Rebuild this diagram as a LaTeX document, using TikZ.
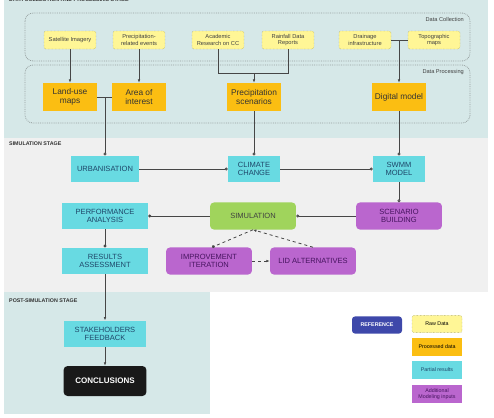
\documentclass[tikz,border=0pt]{standalone}
\usepackage{fontspec}
\setmainfont{Liberation Sans}
\usetikzlibrary{arrows.meta}

\definecolor{bgteal}{RGB}{214,232,232}
\definecolor{bggray}{RGB}{240,240,240}
\definecolor{rawfill}{RGB}{255,246,150}
\definecolor{rawline}{RGB}{140,140,70}
\definecolor{procfill}{RGB}{251,190,18}
\definecolor{partfill}{RGB}{104,218,226}
\definecolor{parttext}{RGB}{30,70,105}
\definecolor{simfill}{RGB}{160,212,92}
\definecolor{addfill}{RGB}{186,102,206}
\definecolor{addtext}{RGB}{70,20,95}
\definecolor{reffill}{RGB}{62,72,170}
\definecolor{lineclr}{RGB}{70,70,70}
\definecolor{groupline}{RGB}{150,160,160}

\begin{document}
\begin{tikzpicture}[x=0.035cm, y=-0.035cm, font=\fontsize{7.5}{8.5}\selectfont,
    every node/.style={align=center, inner sep=1pt},
    raw/.style={draw=rawline, densely dotted, rounded corners=2pt, fill=rawfill, text=black!75,
        minimum width=1.82cm, minimum height=0.63cm, font=\fontsize{5.7}{6.7}\selectfont},
    proc/.style={fill=procfill, text=black!80, minimum width=1.86cm, minimum height=0.98cm,
        font=\fontsize{8.3}{9.3}\selectfont},
    part/.style={fill=partfill, text=parttext, minimum height=0.93cm},
    addin/.style={fill=addfill, text=addtext, rounded corners=4pt, minimum width=3.01cm, minimum height=0.95cm},
    group/.style={draw=groupline, densely dotted, rounded corners=8pt, thick},
    stage/.style={anchor=west, font=\fontsize{5.3}{6}\selectfont\bfseries, text=black!80},
    legend/.style={minimum width=1.75cm, minimum height=0.6cm, font=\fontsize{5.3}{6}\selectfont},
    link/.style={draw=lineclr, thick},
    ocirc/.style={link, -{Circle[open, length=3pt]}},
    fcirc/.style={link, -{Circle[length=3pt]}},
    tip/.style={link, -{Latex[length=3.5pt]}},
    dlink/.style={link, dashed}]

    \useasboundingbox (0,0) rectangle (494,418);

    % stages
    \fill[bgteal] (4,0) rectangle (488,138);
    \fill[bggray] (4,138) rectangle (488,292);
    \fill[bgteal] (4,292) rectangle (210,414);
    \node[stage, anchor=base west] (title) at (8,1.6) {DATA COLLECTION AND PROCESSING STAGE};
    \node[stage] (simstage) at (8,144) {SIMULATION STAGE};
    \node[stage] (poststage) at (8,301) {POST-SIMULATION STAGE};

    % data groups
    \draw[group] (25,13) rectangle (470,61);
    \draw[group] (25,65) rectangle (470,123);
    \node[anchor=east, font=\fontsize{5.6}{6}\selectfont, text=black!75] (collection) at (465,19) {Data Collection};
    \node[anchor=east, font=\fontsize{5.6}{6}\selectfont, text=black!75] (processing) at (465,72) {Data Processing};

    % raw data
    \node[raw] (satellite) at (70,40) {Satellite Imagery};
    \node[raw] (events) at (139,40) {Precipitation-\\related events};
    \node[raw] (academic) at (218,40) {Academic\\Research on CC};
    \node[raw] (rainfall) at (288,40) {Rainfall Data\\Reports};
    \node[raw] (drainage) at (365,40) {Drainage\\infrastructure};
    \node[raw] (topo) at (434,40) {Topographic\\maps};

    % processed data
    \node[proc] (landuse) at (70,97) {Land-use\\maps};
    \node[proc] (area) at (139,97) {Area of\\interest};
    \node[proc] (scenarios) at (254,97) {Precipitation\\scenarios};
    \node[proc] (digital) at (399,97) {Digital model};

    % simulation stage
    \node[part, minimum width=2.38cm] (urban) at (105,169) {URBANISATION};
    \node[part, minimum width=1.82cm] (climate) at (254,169) {CLIMATE\\CHANGE};
    \node[part, minimum width=1.82cm] (swmm) at (399,169) {SWMM\\MODEL};
    \node[part, minimum width=3.01cm] (perf) at (105,216) {PERFORMANCE\\ANALYSIS};
    \node[fill=simfill, text=black!75, rounded corners=4pt, minimum width=3.01cm, minimum height=0.95cm] (sim) at (253,216) {SIMULATION};
    \node[addin] (scenario) at (399,216) {SCENARIO\\BUILDING};
    \node[part, minimum width=3.01cm] (results) at (105,261) {RESULTS\\ASSESSMENT};
    \node[addin] (improve) at (209,261) {IMPROVEMENT\\ITERATION};
    \node[addin] (lid) at (313,261) {LID ALTERNATIVES};

    % post-simulation stage
    \node[part, minimum width=2.9cm] (stake) at (105,334) {STAKEHOLDERS\\FEEDBACK};
    \node[fill=black!90, text=white, rounded corners=4pt, minimum width=2.9cm, minimum height=1.05cm,
        font=\fontsize{8}{9}\selectfont\bfseries] (concl) at (105,381) {CONCLUSIONS};

    % legend
    \node[legend, fill=reffill, text=white, rounded corners=3pt, font=\fontsize{5.3}{6}\selectfont\bfseries] (ref) at (377,325) {REFERENCE};
    \node[legend, draw=rawline, densely dotted, rounded corners=2pt, fill=rawfill] (legraw) at (437,324) {Raw Data};
    \node[legend, fill=procfill] (legproc) at (437,347) {Processed data};
    \node[legend, fill=partfill, text=parttext] (legpart) at (437,370) {Partial results};
    \node[legend, fill=addfill, text=addtext, font=\fontsize{5.3}{5.8}\selectfont] (legadd) at (437,394) {Additional\\Modeling inputs};

    \coordinate (joinland) at (105,97);
    \coordinate (joinprec) at (254,73);
    \coordinate (joindig) at (399,40);

    \draw[tip] (satellite) -- (landuse);
    \draw[tip] (events) -- (area);
    \draw[link] (academic.south) |- (joinprec);
    \draw[link] (rainfall.south) |- (joinprec);
    \draw[tip] (joinprec) -- (scenarios.north);
    \draw[link] (drainage) -- (topo);
    \draw[tip] (joindig) -- (digital.north);

    \draw[link] (landuse) -- (area);
    \draw[ocirc] (joinland) -- (urban.north);
    \draw[ocirc] (scenarios.south) -- (climate.north);
    \draw[ocirc] (digital) -- (swmm);
    \draw[ocirc] (urban) -- (climate);
    \draw[ocirc] (climate) -- (swmm);
    \draw[ocirc] (swmm) -- (scenario);
    \draw[ocirc] (scenario) -- (sim);
    \draw[fcirc] (sim) -- (perf);
    \draw[fcirc] (perf) -- (results);
    \draw[tip] (results) -- (stake);
    \draw[tip] (stake) -- (concl);

    \draw[dlink, -{Circle[length=3pt]}] (sim.south) -- ([xshift=3pt]improve.north);
    \draw[dlink, -{Latex[length=3.5pt]}] (improve) -- (lid);
    \draw[dlink, -{Latex[length=3.5pt]}] (lid.north) -- (sim.south);
\end{tikzpicture}
\end{document}
